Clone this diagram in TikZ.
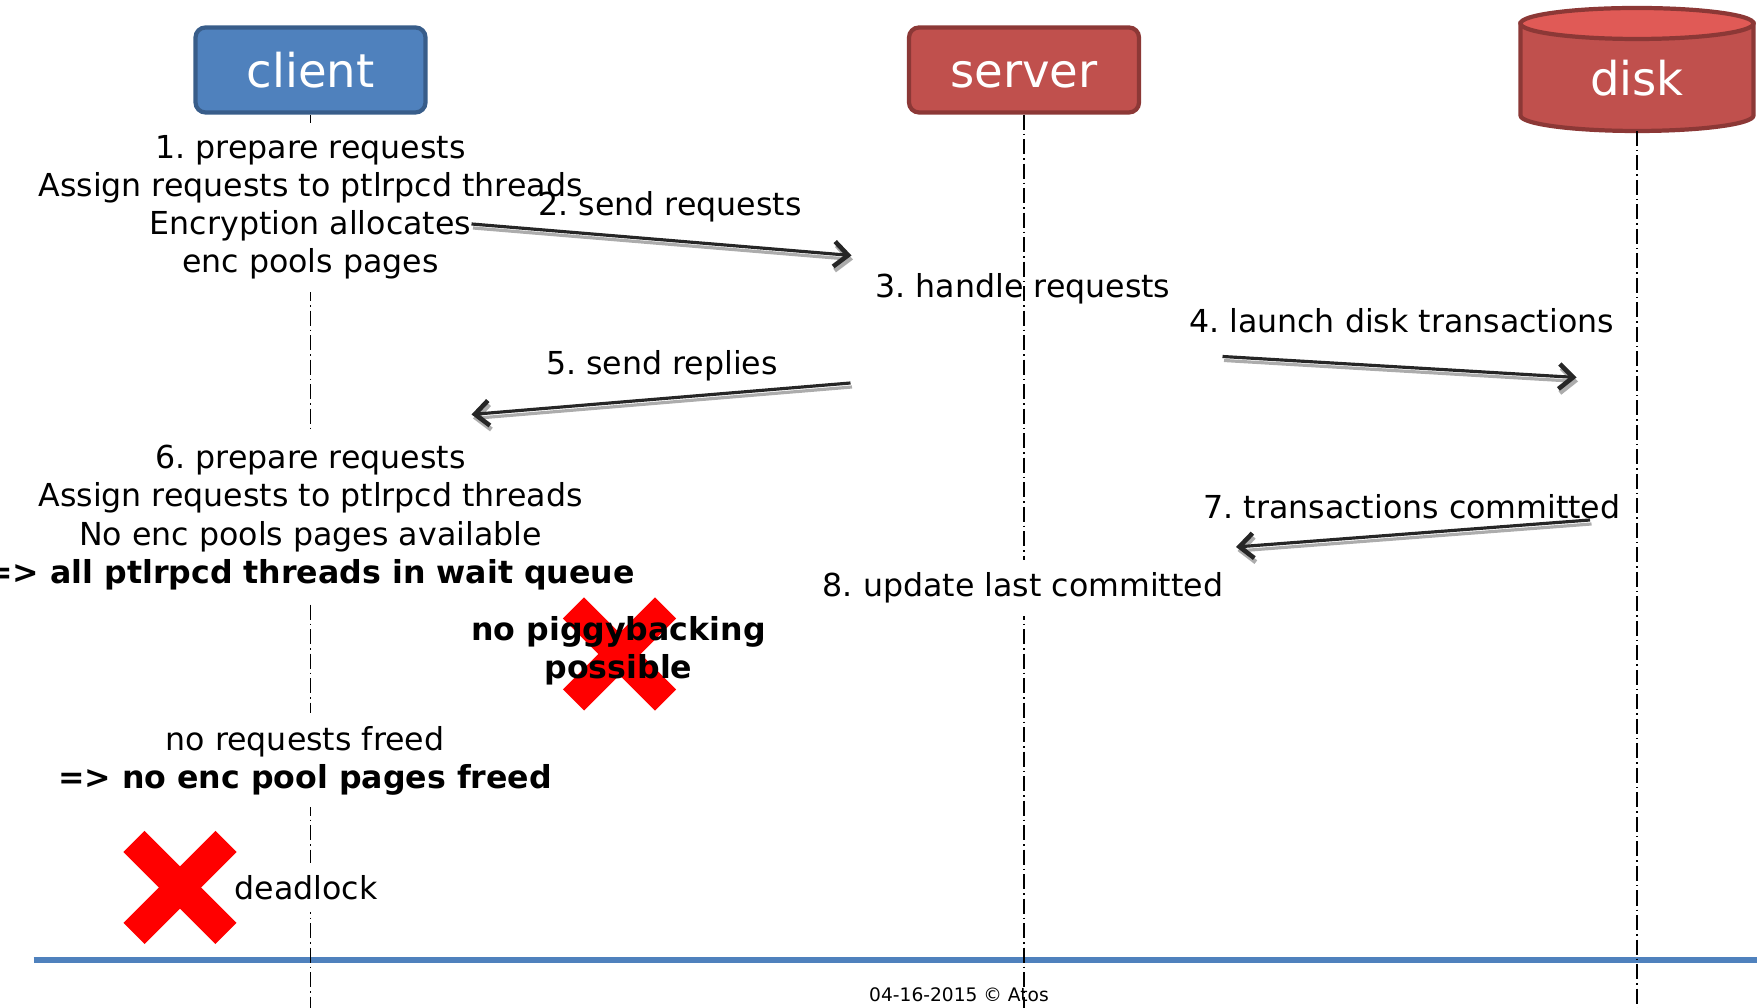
\documentclass[tikz,border=0pt]{standalone}
\usepackage{fontspec}
\setmainfont{DejaVu Sans}
\frenchspacing
\usetikzlibrary{positioning, arrows.meta, calc}
\definecolor{ClientColor}{HTML}{4F81BD}
\definecolor{ClientBorder}{HTML}{385D8A}
\definecolor{ServerColor}{HTML}{C0504D}
\definecolor{ServerBorder}{HTML}{8C3836}
\definecolor{DiskTopColor}{HTML}{E05A56}
\definecolor{RuleColor}{HTML}{4F81BD}

\begin{document}
\begin{tikzpicture}[
    actor/.style={rectangle, rounded corners=0.2cm, line width=2.4pt, minimum width=4.6cm, minimum height=1.7cm,
        text height=0.72cm, text depth=0cm, text=white, font=\fontsize{26.5}{30}\selectfont},
    clientbox/.style={actor, fill=ClientColor, draw=ClientBorder},
    serverbox/.style={actor, fill=ServerColor, draw=ServerBorder},
    disklabel/.style={text=white, font=\fontsize{26.5}{30}\selectfont},
    note/.style={align=center, font=\fontsize{18}{21.7}\selectfont},
    cover/.style={note, fill=white, inner ysep=0.25cm},
    lifeline/.style={line width=1.1pt, dash pattern=on 0.3cm off 0.08cm on 0.03cm off 0.08cm},
    msg/.style={line width=1.8pt, black!85, -{Straight Barb[length=0.28cm, width=0.5cm, line width=2.6pt]},
        preaction={draw=gray!65, line width=1.8pt, transform canvas={shift={(0.03,-0.08)}}}},
    cross/.style={line width=0.6cm, red, line cap=butt}
]
\useasboundingbox (0,0) rectangle (35.14,20.16);

%%%%%%%%%%%%%%%%%%%%%%%%%%%%%%%%%%%%%%%%%%%%%%%%%%%%%%%%%%%%%%%%%%%
% Footer rule
%%%%%%%%%%%%%%%%%%%%%%%%%%%%%%%%%%%%%%%%%%%%%%%%%%%%%%%%%%%%%%%%%%%
\coordinate (rule_left) at (0.67,0.955);
\coordinate (rule_right) at (35.14,0.955);
\draw[line width=3.5pt, RuleColor] (rule_left) -- (rule_right);

%%%%%%%%%%%%%%%%%%%%%%%%%%%%%%%%%%%%%%%%%%%%%%%%%%%%%%%%%%%%%%%%%%%
% Actors
%%%%%%%%%%%%%%%%%%%%%%%%%%%%%%%%%%%%%%%%%%%%%%%%%%%%%%%%%%%%%%%%%%%
\node[clientbox] (client) at (6.21,18.76) {client};
\node[serverbox] (server) at (20.48,18.76) {server};

% Disk (cylinder)
\node[disklabel] (disk) at (32.74,18.59) {disk};
\coordinate (disk_top) at (32.74,19.69);
\coordinate (disk_bottom) at (32.74,17.85);
\filldraw[fill=ServerColor, draw=ServerBorder, line width=2.4pt]
    ($(disk_top)+(-2.33,0)$) -- ($(disk_bottom)+(-2.33,0)$)
    arc[start angle=180, end angle=360, x radius=2.33cm, y radius=0.31cm]
    -- ($(disk_top)+(2.33,0)$) -- cycle;
\filldraw[fill=DiskTopColor, draw=ServerBorder, line width=2.4pt]
    (disk_top) ellipse[x radius=2.33cm, y radius=0.31cm];
\node[disklabel] at (disk) {disk};
\coordinate (disk_foot) at ($(disk_bottom)+(0,-0.31)$);

%%%%%%%%%%%%%%%%%%%%%%%%%%%%%%%%%%%%%%%%%%%%%%%%%%%%%%%%%%%%%%%%%%%
% Lifelines
%%%%%%%%%%%%%%%%%%%%%%%%%%%%%%%%%%%%%%%%%%%%%%%%%%%%%%%%%%%%%%%%%%%
\coordinate (client_end) at (6.21,0);
\coordinate (server_end) at (20.48,0);
\coordinate (disk_end) at (32.74,0);
\draw[lifeline] (client.south) -- (client_end);
\draw[lifeline] (server.south) -- (server_end);
\draw[lifeline] (disk_foot) -- (disk_end);

%%%%%%%%%%%%%%%%%%%%%%%%%%%%%%%%%%%%%%%%%%%%%%%%%%%%%%%%%%%%%%%%%%%
% Steps
%%%%%%%%%%%%%%%%%%%%%%%%%%%%%%%%%%%%%%%%%%%%%%%%%%%%%%%%%%%%%%%%%%%
\node[cover] (prepare1) at (6.21,16.01) {1. prepare requests\\Assign requests to ptlrpcd threads\\Encryption allocates\\enc pools pages};
\node[note] (send_req) at (13.40,16.02) {2. send requests};
\node[note] (handle) at (20.46,14.39) {3. handle requests};
\node[note] (launch) at (28.03,13.75) {4. launch disk transactions};
\node[note] (send_rep) at (13.24,12.84) {5. send replies};
\node[cover] (prepare6) at (6.21,9.81) {6. prepare requests\\Assign requests to ptlrpcd threads\\No enc pools pages available\\\textbf{=> all ptlrpcd threads in wait queue}};
\node[note] (committed) at (28.24,10.03) {7. transactions committed};
\node[cover] (update) at (20.46,8.40) {8. update last committed};

% No piggybacking
\coordinate (piggy_mark) at (12.39,7.08);
\draw[cross] ($(piggy_mark)+(-0.92,0.92)$) -- ++(1.84,-1.84);
\draw[cross] ($(piggy_mark)+(-0.92,-0.92)$) -- ++(1.84,1.84);
\node[note, font=\fontsize{18}{21.7}\selectfont\bfseries] (piggy) at (12.37,7.15) {no piggybacking\\possible};

% Deadlock
\node[cover] (freed) at (6.10,4.95) {no requests freed\\\textbf{=> no enc pool pages freed}};
\node[cover] (deadlock) at (6.12,2.41) {deadlock};
\coordinate (deadlock_mark) at (3.60,2.41);
\draw[cross] ($(deadlock_mark)+(-0.92,0.92)$) -- ++(1.84,-1.84);
\draw[cross] ($(deadlock_mark)+(-0.92,-0.92)$) -- ++(1.84,1.84);

%%%%%%%%%%%%%%%%%%%%%%%%%%%%%%%%%%%%%%%%%%%%%%%%%%%%%%%%%%%%%%%%%%%
% Messages
%%%%%%%%%%%%%%%%%%%%%%%%%%%%%%%%%%%%%%%%%%%%%%%%%%%%%%%%%%%%%%%%%%%
\coordinate (req_from) at (9.43,15.68);
\coordinate (req_to) at (17.03,15.05);
\coordinate (launch_from) at (24.45,13.03);
\coordinate (launch_to) at (31.53,12.61);
\coordinate (rep_from) at (17.01,12.50);
\coordinate (rep_to) at (9.43,11.87);
\coordinate (commit_from) at (31.80,9.76);
\coordinate (commit_to) at (24.72,9.22);
\draw[msg] (req_from) -- (req_to);
\draw[msg] (launch_from) -- (launch_to);
\draw[msg] (rep_from) -- (rep_to);
\draw[msg] (commit_from) -- (commit_to);

%%%%%%%%%%%%%%%%%%%%%%%%%%%%%%%%%%%%%%%%%%%%%%%%%%%%%%%%%%%%%%%%%%%
% Footer
%%%%%%%%%%%%%%%%%%%%%%%%%%%%%%%%%%%%%%%%%%%%%%%%%%%%%%%%%%%%%%%%%%%
\node[font=\fontsize{10.6}{12}\selectfont] (footer) at (19.18,0.26) {04-16-2015 © Atos};

\end{tikzpicture}
\end{document}
